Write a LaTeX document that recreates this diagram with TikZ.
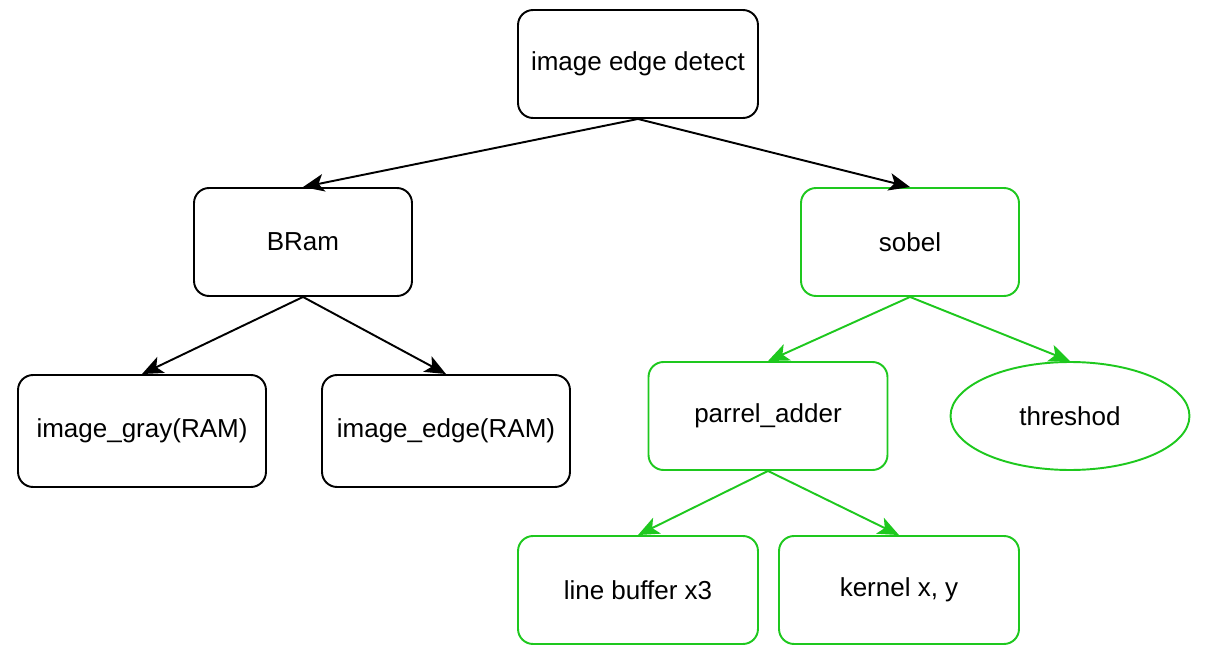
\documentclass[tikz,border=0pt]{standalone}
\usepackage{fontspec}
\setmainfont{Liberation Sans}
\usetikzlibrary{arrows.meta,positioning,shapes.geometric}
\definecolor{modgreen}{RGB}{30,200,30}

\begin{document}
\begin{tikzpicture}[
    x=0.02cm, y=-0.02cm,
    box/.style={draw, rounded corners=0.3cm, line width=1.1pt, font=\fontsize{14.8}{18}\selectfont, minimum width=4.8cm, minimum height=2.16cm, align=center, inner sep=0pt},
    gbox/.style={box, draw=modgreen},
    gell/.style={ellipse, draw=modgreen, line width=1.1pt, font=\fontsize{14.8}{18}\selectfont, minimum width=4.78cm, minimum height=2.16cm, inner sep=0pt},
    link/.style={-{Stealth[length=12pt,width=10pt,inset=3pt]}, line width=1.1pt},
    glink/.style={link, draw=modgreen, fill=modgreen}
  ]
  \useasboundingbox (0,0) rectangle (1205,659);
  \node[box] (top) at (638, 64) {image edge detect};
  \node[box, minimum width=4.36cm] (bram) at (303, 242) {BRam};
  \node[gbox, minimum width=4.36cm] (sobel) at (910, 242) {sobel};
  \node[box, minimum width=4.96cm, minimum height=2.24cm] (gray) at (142, 431) {image\_gray(RAM)};
  \node[box, minimum width=4.96cm, minimum height=2.24cm] (edge) at (446, 431) {image\_edge(RAM)};
  \node[gbox, minimum width=4.78cm] (adder) at (768, 416) {parrel\_adder};
  \node[gell] (thresh) at (1070, 416) {threshod};
  \node[gbox] (linebuf) at (638, 590) {line buffer x3};
  \node[gbox] (kernel) at (899, 590) {kernel x, y};

  \draw[link] (top.south) -- (bram.north);
  \draw[link] (top.south) -- (sobel.north);
  \draw[link] (bram.south) -- (gray.north);
  \draw[link] (bram.south) -- (edge.north);
  \draw[glink] (sobel.south) -- (adder.north);
  \draw[glink] (sobel.south) -- (thresh.north);
  \draw[glink] (adder.south) -- (linebuf.north);
  \draw[glink] (adder.south) -- (kernel.north);
\end{tikzpicture}
\end{document}
